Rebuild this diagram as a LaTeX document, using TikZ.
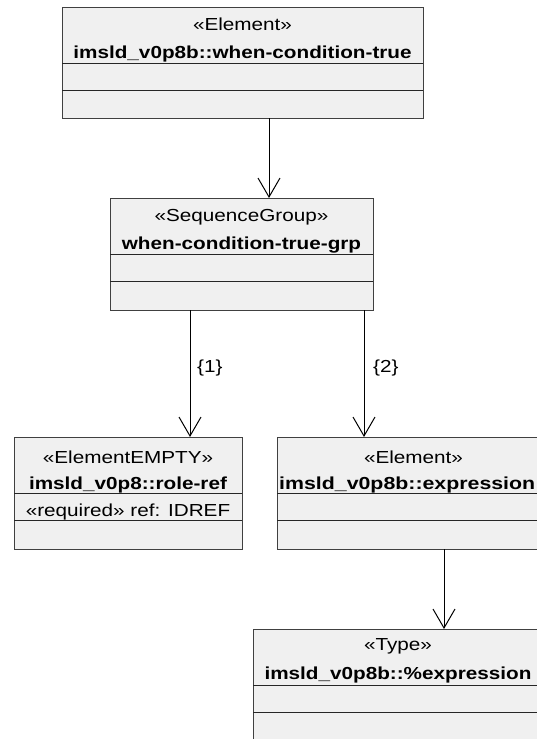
\documentclass[tikz,border=0pt]{standalone}
\usepackage{fontspec}
\usepackage{graphicx}
\setmainfont{Liberation Sans}[FakeStretch=1.19]
\usetikzlibrary{arrows.meta}
\definecolor{boxfill}{HTML}{F0F0F0}
\definecolor{boxline}{HTML}{404040}
\begin{document}
\begin{tikzpicture}[x=1pt,y=-1pt,
  cls/.style={draw=boxline, fill=boxfill, line width=1pt, rectangle, inner sep=0pt, outer sep=0pt, anchor=north west},
  divline/.style={draw=black!85, line width=1pt},
  st/.style={inner sep=0pt, anchor=base, font=\fontsize{17.4}{20}\selectfont},
  nm/.style={inner sep=0pt, anchor=base, font=\fontsize{17.4}{20}\selectfont\bfseries},
  lbl/.style={inner sep=0pt, anchor=base west, font=\fontsize{17.4}{20}\selectfont},
  conn/.style={draw=black, line width=1pt, -{Straight Barb[length=19pt,width=22pt]}}
]
\useasboundingbox (0,0) rectangle (537,739);

% boxes
\node[cls, minimum width=361pt, minimum height=111pt] (b1) at (62,7) {};
\node[cls, minimum width=263pt, minimum height=112pt] (b2) at (110,198) {};
\node[cls, minimum width=228pt, minimum height=112pt] (b3) at (14,437) {};
\node[cls, minimum width=279pt, minimum height=112pt] (b4) at (277,437) {};
\node[cls, minimum width=288pt, minimum height=111pt] (b5) at (253,629) {};

% compartment lines
\foreach \b in {b1,b2,b3,b4,b5}{
  \draw[divline] ([yshift=-56pt]\b.north west) -- ([yshift=-56pt]\b.north east);
  \draw[divline] ([yshift=-83pt]\b.north west) -- ([yshift=-83pt]\b.north east);
}

% texts
\node[st] (b1s) at ([yshift=-23pt]b1.north) {«Element»};
\node[nm] (b1n) at ([yshift=-51pt]b1.north) {imsld\_v0p8b::when-condition-true};

\node[st] (b2s) at ([yshift=-23pt]b2.north) {«SequenceGroup»};
\node[nm] (b2n) at ([yshift=-51pt]b2.north) {when-condition-true-grp};

\node[st] (b3s) at ([yshift=-26pt]b3.north) {«ElementEMPTY»};
\node[nm] (b3n) at ([yshift=-52pt]b3.north) {imsld\_v0p8::role-ref};
\node[st] (b3a) at ([yshift=-79pt]b3.north) {«required» ref: IDREF};

\node[st] (b4s) at ([xshift=-3pt,yshift=-26pt]b4.north) {«Element»};
\node[nm, anchor=base west] (b4n) at ([xshift=2pt,yshift=-52pt]b4.north west) {\scalebox{1.03}[1]{imsld\_v0p8b::expression}};

\node[st] (b5s) at ([xshift=1pt,yshift=-21pt]b5.north) {«Type»};
\node[nm] (b5n) at ([xshift=1pt,yshift=-50pt]b5.north) {imsld\_v0p8b::\%expression};

% connector x positions
\coordinate (x1) at (269,0);
\coordinate (x2) at (190,0);
\coordinate (x3) at (364,0);
\coordinate (x4) at (444,0);

\draw[conn] (b1.south -| x1) -- (b2.north -| x1);
\draw[conn] (b2.south -| x2) -- (b3.north -| x2);
\draw[conn] (b2.south -| x3) -- (b4.north -| x3);
\draw[conn] (b4.south -| x4) -- (b5.north -| x4);

% multiplicity labels
\node[lbl] (m1) at (197,372) {\{1\}};
\node[lbl] (m2) at (373,372) {\{2\}};
\end{tikzpicture}
\end{document}
